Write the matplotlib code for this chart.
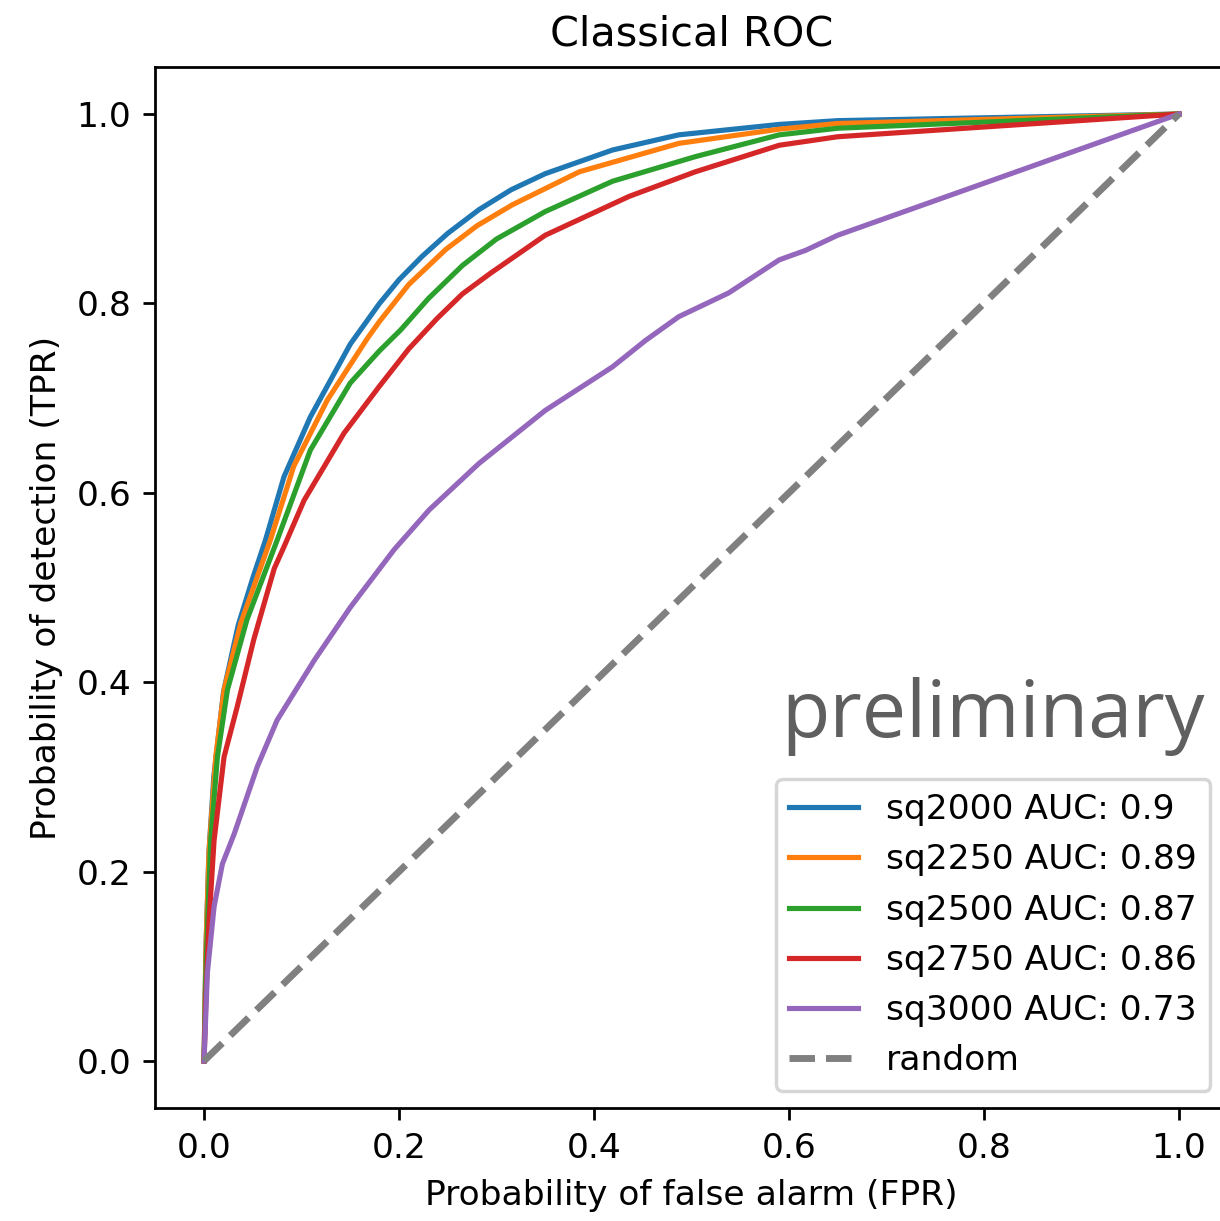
import matplotlib
matplotlib.use('Agg')
import matplotlib.pyplot as plt

# ROC points (FPR, TPR)
fpr_2000 = [0, 0.002, 0.005, 0.01, 0.02, 0.035, 0.05, 0.063, 0.082, 0.109, 0.15, 0.18,
            0.2, 0.224, 0.25, 0.282, 0.315, 0.35, 0.419, 0.487, 0.59, 0.65, 1.0]
tpr_2000 = [0, 0.12, 0.22, 0.30, 0.39, 0.46, 0.51, 0.55, 0.617, 0.68, 0.757, 0.80,
            0.825, 0.85, 0.874, 0.899, 0.92, 0.937, 0.962, 0.978, 0.989, 0.993, 1.0]

fpr_2250 = [0, 0.002, 0.005, 0.012, 0.0205, 0.0376, 0.068, 0.092, 0.1265, 0.1675, 0.18,
            0.21, 0.248, 0.28, 0.316, 0.385, 0.487, 0.59, 0.65, 1.0]
tpr_2250 = [0, 0.12, 0.22, 0.321, 0.392, 0.462, 0.55, 0.628, 0.698, 0.763, 0.781,
            0.82, 0.857, 0.882, 0.904, 0.939, 0.969, 0.984, 0.99, 1.0]

fpr_2500 = [0, 0.002, 0.0068, 0.0137, 0.024, 0.044, 0.075, 0.109, 0.15, 0.18, 0.2017,
            0.23, 0.265, 0.30, 0.35, 0.419, 0.504, 0.59, 0.65, 1.0]
tpr_2500 = [0, 0.10, 0.233, 0.321, 0.392, 0.466, 0.55, 0.645, 0.716, 0.75, 0.772,
            0.805, 0.84, 0.868, 0.897, 0.929, 0.955, 0.978, 0.985, 1.0]

fpr_2750 = [0, 0.002, 0.005, 0.0103, 0.0205, 0.034, 0.051, 0.072, 0.082, 0.1026, 0.1436,
            0.1795, 0.21, 0.239, 0.265, 0.294, 0.35, 0.436, 0.504, 0.59, 0.65, 1.0]
tpr_2750 = [0, 0.07, 0.146, 0.233, 0.321, 0.374, 0.445, 0.52, 0.543, 0.592, 0.663,
            0.712, 0.752, 0.784, 0.81, 0.832, 0.872, 0.913, 0.939, 0.967, 0.976, 1.0]

fpr_3000 = [0, 0.0034, 0.0103, 0.0188, 0.031, 0.0547, 0.075, 0.113, 0.15, 0.195, 0.231,
            0.282, 0.35, 0.419, 0.453, 0.487, 0.538, 0.59, 0.617, 0.65, 1.0]
tpr_3000 = [0, 0.093, 0.163, 0.208, 0.240, 0.311, 0.360, 0.423, 0.479, 0.540, 0.582,
            0.631, 0.687, 0.733, 0.761, 0.786, 0.811, 0.846, 0.856, 0.872, 1.0]

labels = ['sq2000 AUC: 0.9', 'sq2250 AUC: 0.89', 'sq2500 AUC: 0.87',
          'sq2750 AUC: 0.86', 'sq3000 AUC: 0.73']
curves = [(fpr_2000, tpr_2000), (fpr_2250, tpr_2250), (fpr_2500, tpr_2500),
          (fpr_2750, tpr_2750), (fpr_3000, tpr_3000)]

fig = plt.figure(figsize=(1220 / 248, 1221 / 248), dpi=248)
ax = fig.add_axes([0.1273, 0.0923, 0.879, 0.8531])

for (x, y), lab in zip(curves, labels):
    ax.plot(x, y, label=lab)
ax.plot([0, 1], [0, 1], linestyle='--', color='gray', lw=2, label='random')

ax.set_title('Classical ROC')
ax.set_xlabel('Probability of false alarm (FPR)')
ax.set_ylabel('Probability of detection (TPR)')
ax.legend(loc='lower right')
ax.spines['right'].set_visible(False)  # cut off in the original screenshot

ax.text(0.979, 0.356, 'preliminary', transform=ax.transAxes, ha='right', va='baseline',
        fontsize=23, family='Open Sans', color='#5f5f5f')

fig.savefig('out.png', dpi=248)
